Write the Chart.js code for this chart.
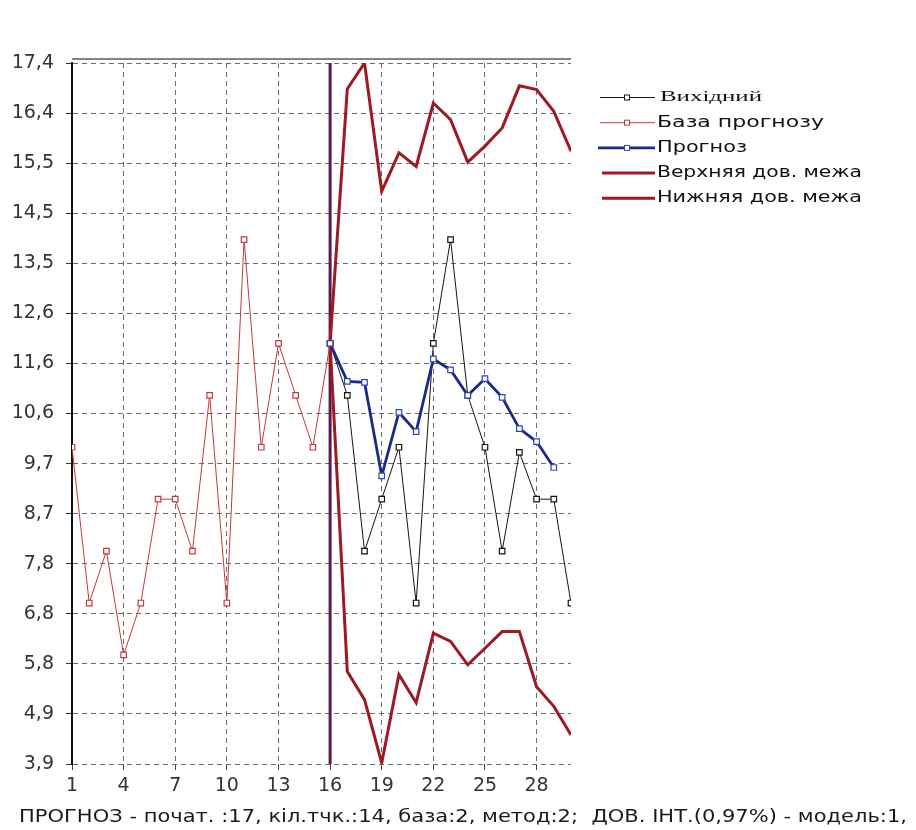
<!DOCTYPE html>
<html><head><meta charset="utf-8">
<script src="https://cdn.jsdelivr.net/npm/chart.js@4.4.1/dist/chart.umd.min.js"></script>
<style>html,body{margin:0;padding:0;background:#fff;}#wrap{width:916px;height:830px;}</style>
</head><body><div id="wrap"><canvas id="c" width="916" height="830"></canvas></div>
<script>
// ---- data ----
const xTicks = [1, 4, 7, 10, 13, 16, 19, 22, 25, 28];
const yTickLabels = ['3,9','4,9','5,8','6,8','7,8','8,7','9,7','10,6','11,6','12,6','13,5','14,5','15,5','16,4','17,4'];
const yMin = 3.9, yMax = 17.4, xMin = 1, xMax = 30;
const forecastStart = 16;

const baseDays = [1,2,3,4,5,6,7,8,9,10,11,12,13,14,15,16];
const baseValues = [10,7,8,6,7,9,9,8,11,7,14,10,12,11,10,12];

const actualDays = [16,17,18,19,20,21,22,23,24,25,26,27,28,29,30];
const actualValues = [12,11,8,9,10,7,12,14,11,10,8,9.9,9,9,7];

const forecastDays = [16,17,18,19,20,21,22,23,24,25,26,27,28,29];
const forecastValues = [12,11.27,11.25,9.45,10.67,10.3,11.7,11.49,11.0,11.32,10.96,10.36,10.11,9.61];

const boundDays = [16,17,18,19,20,21,22,23,24,25,26,27,28,29,30];
const upperValues = [12,16.9,17.4,14.93,15.67,15.41,16.63,16.31,15.49,15.8,16.15,16.96,16.89,16.47,15.7];
const lowerValues = [12,5.68,5.14,3.92,5.62,5.08,6.42,6.26,5.81,6.13,6.45,6.45,5.39,5.01,4.46];

const seriesLabels = ['Вихідний','База прогнозу','Прогноз','Верхняя дов. межа','Нижняя дов. межа'];
const titleText = 'ПРОГНОЗ - почат. :17, кіл.тчк.:14, база:2, метод:2;  ДОВ. ІНТ.(0,97%) - модель:1,';

const pts = (xs, ys) => xs.map((x, i) => ({x, y: ys[i]}));

// ---- styles ----
const C_ACTUAL = '#141414', C_BASE = '#c23a3a', C_FC = '#1b2a88', C_BOUND = '#9c1b22', C_START = '#5b1a4c';

const legendStyles = [
  {font: '15px "Liberation Serif"', w: 102, tx: 660, x0: 600, marker: true},
  {font: '15px "DejaVu Sans"', w: 167, tx: 657, x0: 600, marker: true},
  {font: '15px "DejaVu Sans"', w: 90, tx: 657, x0: 598, marker: true},
  {font: '15px "DejaVu Sans"', w: 205, tx: 657, x0: 602, marker: false},
  {font: '15px "DejaVu Sans"', w: 205, tx: 657, x0: 602, marker: false}
];

function stretchText(ctx, text, x, y, width) {
  const m = ctx.measureText(text).width;
  ctx.save();
  ctx.translate(x, y);
  ctx.scale(width / m, 1);
  ctx.fillText(text, 0, 0);
  ctx.restore();
}

const decor = {
  id: 'decor',
  beforeDatasetsDraw(chart) {
    const {ctx, chartArea: a} = chart;
    ctx.save();
    ctx.strokeStyle = '#5a5a5a';
    ctx.lineWidth = 1.5;
    ctx.beginPath();
    ctx.moveTo(a.left, a.top - 4);
    ctx.lineTo(a.right, a.top - 4);
    ctx.stroke();
    ctx.restore();
  },
  afterDraw(chart) {
    const ctx = chart.ctx;
    const ds = chart.data.datasets.slice(0, 5);
    const x1 = 655, y0 = 97.5, step = 25.2;
    ds.forEach((d, i) => {
      const y = y0 + i * step;
      const st = legendStyles[i];
      ctx.save();
      ctx.strokeStyle = d.borderColor;
      ctx.lineWidth = d.borderWidth;
      ctx.beginPath();
      ctx.moveTo(st.x0, y); ctx.lineTo(x1, y);
      ctx.stroke();
      if (st.marker) {
        ctx.lineWidth = 1;
        ctx.fillStyle = '#fff';
        ctx.strokeStyle = d.pointBorderColor || d.borderColor;
        ctx.fillRect(624.5, y - 2.5, 5, 5);
        ctx.strokeRect(624.5, y - 2.5, 5, 5);
      }
      ctx.fillStyle = '#111';
      ctx.font = st.font;
      ctx.textBaseline = 'middle';
      ctx.textAlign = 'left';
      stretchText(ctx, d.label, st.tx, y, st.w);
      ctx.restore();
    });
    ctx.save();
    ctx.fillStyle = '#1a1a1a';
    ctx.font = '17px "DejaVu Sans"';
    ctx.textBaseline = 'middle';
    ctx.textAlign = 'left';
    stretchText(ctx, titleText, 19, 818, 888);
    ctx.restore();
  }
};

const gridDash = [5, 4];
const tickFont = {family: 'DejaVu Sans', size: 19};

new Chart(document.getElementById('c'), {
  type: 'line',
  data: {
    datasets: [
      {label: seriesLabels[0], data: pts(actualDays, actualValues), borderColor: C_ACTUAL, borderWidth: 1,
       pointStyle: 'rect', pointRadius: 3.9, pointBorderWidth: 1.2, pointBackgroundColor: '#fff', pointBorderColor: C_ACTUAL, order: 1},
      {label: seriesLabels[1], data: pts(baseDays, baseValues), borderColor: C_BASE, borderWidth: 1,
       pointStyle: 'rect', pointRadius: 3.9, pointBorderWidth: 1.2, pointBackgroundColor: '#fff', pointBorderColor: C_BASE, order: 2},
      {label: seriesLabels[2], data: pts(forecastDays, forecastValues), borderColor: C_FC, borderWidth: 2.8,
       pointStyle: 'rect', pointRadius: 3.9, pointBorderWidth: 1.2, pointBackgroundColor: '#fff', pointBorderColor: '#2b47b0', order: 0},
      {label: seriesLabels[3], data: pts(boundDays, upperValues), borderColor: C_BOUND, borderWidth: 3, pointRadius: 0, order: 3},
      {label: seriesLabels[4], data: pts(boundDays, lowerValues), borderColor: C_BOUND, borderWidth: 3, pointRadius: 0, order: 4},
      {label: 'start', data: [{x: forecastStart, y: yMin}, {x: forecastStart, y: yMax}], borderColor: C_START, borderWidth: 3, pointRadius: 0, order: 5}
    ]
  },
  options: {
    responsive: false,
    animation: false,
    devicePixelRatio: 1,
    layout: {padding: {left: 0, right: 345, top: 63, bottom: 34}},
    plugins: {legend: {display: false}, title: {display: false}, tooltip: {enabled: false}},
    scales: {
      x: {
        type: 'linear', min: xMin, max: xMax,
        afterBuildTicks(scale) { scale.ticks = xTicks.map(v => ({value: v})); },
        afterFit(scale) { scale.height = 32; },
        ticks: {font: tickFont, color: '#333', padding: 5, maxRotation: 0, autoSkip: false, callback: v => String(v)},
        grid: {color: '#6a6a6a', lineWidth: 1, tickLength: 6, tickColor: '#444'},
        border: {display: false, dash: gridDash}
      },
      y: {
        type: 'linear', min: yMin, max: yMax,
        afterBuildTicks(scale) {
          const n = yTickLabels.length;
          scale.ticks = yTickLabels.map((_, i) => ({value: yMin + i * (yMax - yMin) / (n - 1)}));
        },
        afterFit(scale) { scale.width = 72; },
        ticks: {font: tickFont, color: '#333', padding: 12, autoSkip: false, callback: (v, i) => yTickLabels[i]},
        grid: {color: '#6a6a6a', lineWidth: 1, tickLength: 6, tickColor: '#333'},
        border: {display: true, color: '#111', width: 2, dash: gridDash}
      }
    }
  },
  plugins: [decor]
});
</script>
</body></html>
